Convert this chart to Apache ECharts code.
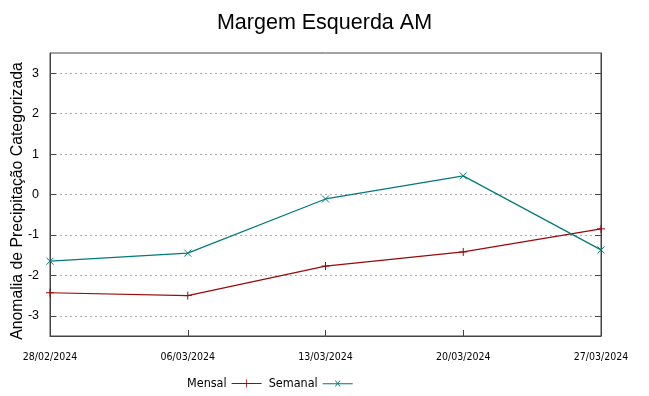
<!DOCTYPE html>
<html><head><meta charset="utf-8">
<script src="https://cdn.jsdelivr.net/npm/echarts@6/dist/echarts.min.js"></script>
<style>html,body{margin:0;padding:0;background:#fff}#c{width:649px;height:396px}</style>
</head><body><div id="c"></div>
<script>
var categories = ['28/02/2024','06/03/2024','13/03/2024','20/03/2024','27/03/2024'];
var mensal = [-2.43, -2.50, -1.77, -1.42, -0.85];
var semanal = [-1.65, -1.45, -0.11, 0.46, -1.37];
var yTicks = [-3, -2, -1, 0, 1, 2, 3];
var yTitle = 'Anomalia de Precipitação Categorizada';

var plusPath = 'path://M0,5L10,5M5,0L5,10';
var crossPath = 'path://M0,0L10,10M0,10L10,0';
var redC = '#9a0a0a', tealC = '#007a7a';
var narrow = "'DejaVu Sans Condensed', 'Liberation Sans', sans-serif";

var chart = echarts.init(document.getElementById('c'), null, {renderer:'canvas'});
chart.setOption({
  animation: false,
  title: {text: 'Margem Esquerda AM', left: 'center', top: 7,
    textStyle: {fontFamily: 'Liberation Sans', fontWeight: 'normal', fontSize: 21.5, color: '#000'}},
  grid: {left: 50, right: 48, top: 53, bottom: 60, show: true, borderColor: '#444', borderWidth: 1,
    containLabel: false, outerBoundsMode: 'none'},
  graphic: [{type: 'text', x: 18, y: 201, rotation: Math.PI / 2,
    style: {text: yTitle, fontFamily: 'Liberation Sans', fontSize: 15.8, fill: '#000',
      align: 'center', verticalAlign: 'middle'}}],
  legend: {left: 182, bottom: 1, align: 'right', itemGap: 7, itemWidth: 30, itemHeight: 9,
    itemStyle: {borderWidth: 0},
    textStyle: {fontFamily: narrow, fontSize: 12.5, color: '#000'},
    data: [
      {name: 'Mensal', icon: 'path://M0,4.6L30,4.6L30,5.4L0,5.4ZM14.6,1L15.4,1L15.4,9L14.6,9Z'},
      {name: 'Semanal', icon: 'path://M0,4.6L30,4.6L30,5.4L0,5.4ZM12.3,2L12.8,1.5L17.7,7.5L17.2,8ZM17.2,1.5L17.7,2L12.8,8L12.3,7.5Z'}
    ]},
  xAxis: {type: 'category', data: categories, boundaryGap: false,
    axisLine: {onZero: false, lineStyle: {color: '#444'}},
    axisTick: {inside: true, length: 6, lineStyle: {color: '#444'}},
    axisLabel: {fontFamily: narrow, fontSize: 10.5, color: '#000', margin: 16,
      showMinLabel: true, showMaxLabel: true, interval: 0},
    splitLine: {show: false}},
  yAxis: [
    {type: 'value', min: -3.5, max: 3.5, interval: 1,
     axisLine: {show: true, onZero: false, lineStyle: {color: '#444'}},
     axisTick: {show: true, inside: true, length: 6, lineStyle: {color: '#444'},
       customValues: yTicks},
     axisLabel: {fontFamily: 'Liberation Sans', fontSize: 12.5, color: '#000', margin: 11,
       customValues: yTicks},
     splitLine: {show: true, lineStyle: {color: '#aaa', type: [2, 3], width: 1}}},
    {type: 'value', min: -3.5, max: 3.5, position: 'right',
     axisLine: {show: true, onZero: false, lineStyle: {color: '#444'}},
     axisTick: {show: true, inside: true, length: 6, lineStyle: {color: '#444'}, customValues: yTicks},
     axisLabel: {show: false, customValues: yTicks},
     splitLine: {show: false}}
  ],
  series: [
    {name: 'Mensal', type: 'line', data: mensal, color: redC,
     symbol: plusPath, symbolSize: 8,
     itemStyle: {color: redC, borderColor: redC, borderWidth: 1},
     lineStyle: {color: redC, width: 1.2}},
    {name: 'Semanal', type: 'line', data: semanal, color: tealC,
     symbol: crossPath, symbolSize: 7,
     itemStyle: {color: tealC, borderColor: tealC, borderWidth: 1},
     lineStyle: {color: tealC, width: 1.2}}
  ]
});
</script></body></html>
